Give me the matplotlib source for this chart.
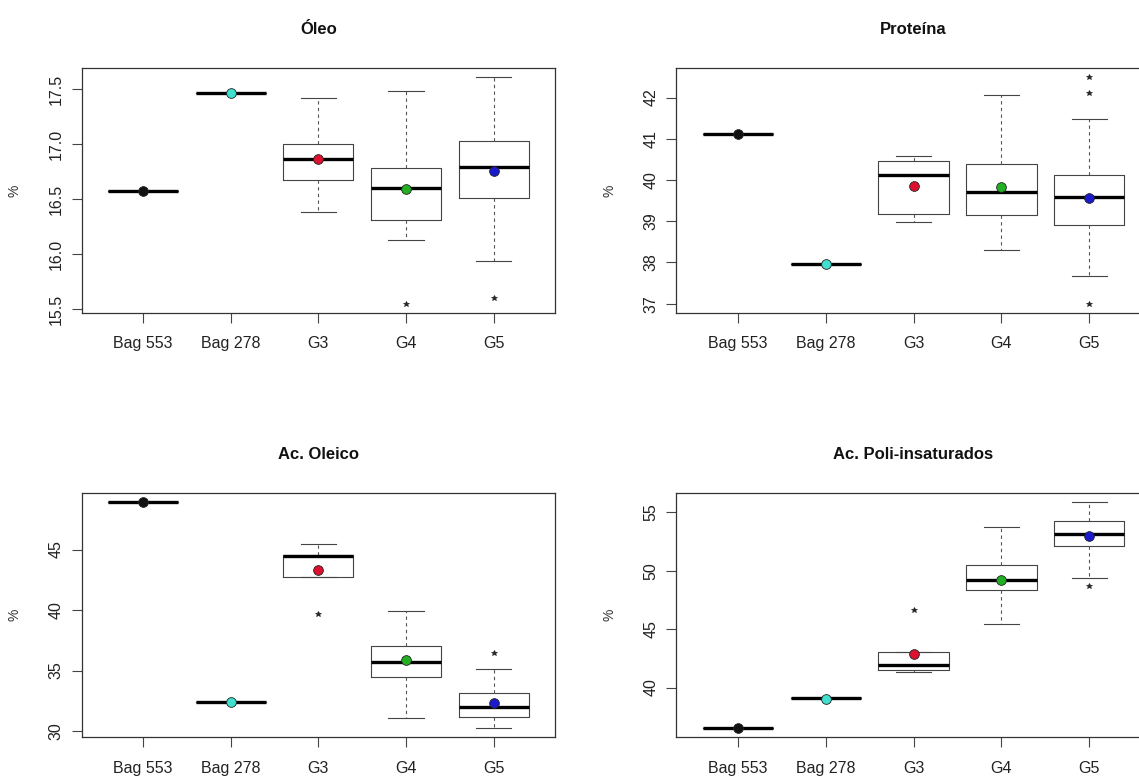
import matplotlib
matplotlib.use("Agg")
import matplotlib.pyplot as plt
import numpy as np

plt.rcParams['font.family'] = ['Liberation Sans', 'DejaVu Sans']

# groups and the colour of the mean point of each group
groups = ["Bag 553", "Bag 278", "G3", "G4", "G5"]
mean_colors = ["#111111", "#40e0d0", "#dd1030", "#22b022", "#1a1acd"]

# Óleo
oleo_lo = [16.58, 17.47, 16.38, 16.13, 15.935]
oleo_q1 = [16.58, 17.47, 16.68, 16.315, 16.515]
oleo_med = [16.58, 17.47, 16.87, 16.60, 16.79]
oleo_q3 = [16.58, 17.47, 17.00, 16.785, 17.03]
oleo_hi = [16.58, 17.47, 17.42, 17.49, 17.61]
oleo_mean = [16.58, 17.47, 16.87, 16.59, 16.755]
oleo_out = [[], [], [], [15.55], [15.60]]
oleo_ticks = [15.5, 16.0, 16.5, 17.0, 17.5]

# Proteína
prot_lo = [41.11, 37.96, 38.97, 38.31, 37.67]
prot_q1 = [41.11, 37.96, 39.17, 39.14, 38.91]
prot_med = [41.11, 37.96, 40.11, 39.70, 39.59]
prot_q3 = [41.11, 37.96, 40.47, 40.39, 40.12]
prot_hi = [41.11, 37.96, 40.58, 42.05, 41.47]
prot_mean = [41.11, 37.96, 39.85, 39.84, 39.56]
prot_out = [[], [], [], [], [42.49, 42.12, 37.0]]
prot_ticks = [37, 38, 39, 40, 41, 42]

# Ac. Oleico
olei_lo = [48.95, 32.41, 42.71, 31.08, 30.23]
olei_q1 = [48.95, 32.41, 42.71, 34.50, 31.19]
olei_med = [48.95, 32.41, 44.45, 35.70, 32.02]
olei_q3 = [48.95, 32.41, 44.55, 37.05, 33.18]
olei_hi = [48.95, 32.41, 45.47, 39.89, 35.12]
olei_mean = [48.95, 32.38, 43.34, 35.89, 32.30]
olei_out = [[], [], [39.67], [], [36.49]]
olei_ticks = [30, 35, 40, 45]

# Ac. Poli-insaturados
poli_lo = [36.52, 39.12, 41.29, 45.44, 49.40]
poli_q1 = [36.52, 39.12, 41.52, 48.35, 52.09]
poli_med = [36.52, 39.12, 41.95, 49.17, 53.09]
poli_q3 = [36.52, 39.12, 43.06, 50.49, 54.23]
poli_hi = [36.52, 39.12, 43.06, 53.71, 55.89]
poli_mean = [36.52, 39.01, 42.87, 49.23, 53.00]
poli_out = [[], [], [46.60], [], [48.72]]
poli_ticks = [40, 45, 50, 55]


def BoxPanel(ax, title, lo, q1, med, q3, hi, means, outs, ticks, fmt):
    stats = []
    for i in range(len(groups)):
        stats.append({'whislo': lo[i], 'q1': q1[i], 'med': med[i],
                      'q3': q3[i], 'whishi': hi[i], 'fliers': outs[i]})
    pos = np.arange(1, len(groups) + 1)
    ax.bxp(stats, positions=pos, widths=0.8, showfliers=True,
           boxprops=dict(color='#444444', lw=0.8),
           medianprops=dict(color='black', lw=2.4, solid_capstyle='butt'),
           whiskerprops=dict(color='#555555', lw=0.8, linestyle=(0, (3, 3))),
           capprops=dict(color='#444444', lw=0.8),
           capwidths=0.4,
           flierprops=dict(marker='*', markersize=4, markerfacecolor='#222222',
                           markeredgecolor='#222222', markeredgewidth=0.5))
    for i in range(len(groups)):
        ax.plot(pos[i], means[i], 'o', markersize=7, markerfacecolor=mean_colors[i],
                markeredgecolor='#222222', markeredgewidth=0.6, zorder=5)

    # R style ranges: 4% padding
    allv = lo + hi + [v for o in outs for v in o]
    r = max(allv) - min(allv)
    ax.set_ylim(min(allv) - 0.04 * r, max(allv) + 0.04 * r)
    ax.set_xlim(0.3, 5.7)

    ax.set_xticks(pos)
    ax.set_xticklabels(groups)
    ax.set_yticks(ticks)
    ax.set_yticklabels([fmt % t for t in ticks], rotation=90, va='center')
    ax.tick_params(axis='both', length=7, width=0.8, color='#444444',
                   labelsize=11.5, labelcolor='#222222')
    ax.tick_params(axis='x', pad=10)
    ax.tick_params(axis='y', pad=6)
    for s in ax.spines.values():
        s.set_linewidth(0.9)
        s.set_color('#333333')

    ax.set_title(title, fontsize=12, fontweight='bold', pad=24.5, color='#111111')
    ax.text(-0.141, 0.5, "%", transform=ax.transAxes, rotation=90,
            ha='center', va='center', fontsize=10, color='#333333')


fig = plt.figure(figsize=(11.39, 7.77), dpi=100)
fig.patch.set_facecolor('white')

W = 1139.0
H = 777.0
ax1 = fig.add_axes([81.7 / W, 1 - 312.7 / H, 473.3 / W, 244.4 / H])
ax2 = fig.add_axes([676.3 / W, 1 - 312.7 / H, 474.5 / W, 244.4 / H])
ax3 = fig.add_axes([81.7 / W, 1 - 737.3 / H, 473.3 / W, 244.6 / H])
ax4 = fig.add_axes([676.3 / W, 1 - 737.3 / H, 474.5 / W, 244.6 / H])

BoxPanel(ax1, "Óleo", oleo_lo, oleo_q1, oleo_med, oleo_q3, oleo_hi,
         oleo_mean, oleo_out, oleo_ticks, "%.1f")
BoxPanel(ax2, "Proteína", prot_lo, prot_q1, prot_med, prot_q3, prot_hi,
         prot_mean, prot_out, prot_ticks, "%d")
BoxPanel(ax3, "Ac. Oleico", olei_lo, olei_q1, olei_med, olei_q3, olei_hi,
         olei_mean, olei_out, olei_ticks, "%d")
BoxPanel(ax4, "Ac. Poli-insaturados", poli_lo, poli_q1, poli_med, poli_q3, poli_hi,
         poli_mean, poli_out, poli_ticks, "%d")

plt.savefig("out.png", dpi=100)
plt.close()
